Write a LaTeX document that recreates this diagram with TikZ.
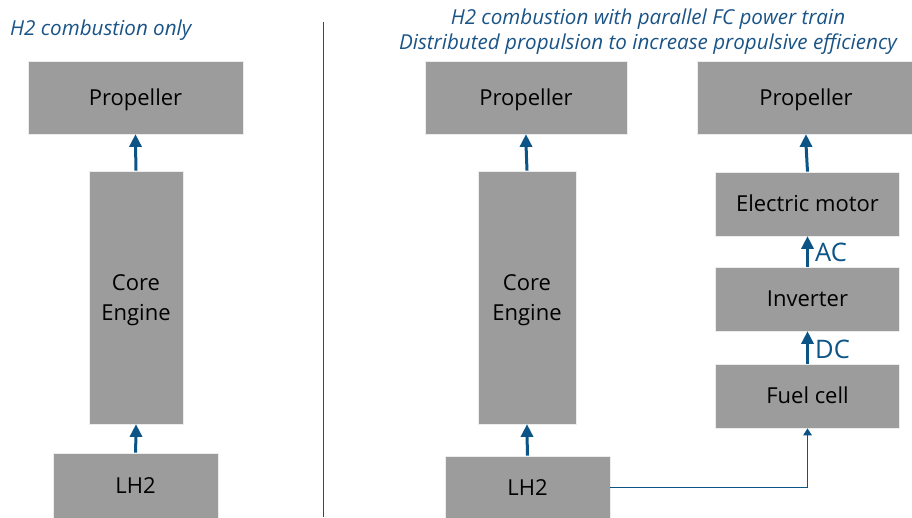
\documentclass[tikz,border=0pt]{standalone}
\usepackage{fontspec}
\setmainfont{Open Sans}
\usetikzlibrary{arrows.meta}
\definecolor{boxgray}{RGB}{156,156,157}
\definecolor{dblue}{RGB}{12,84,134}
\definecolor{tblue}{RGB}{26,84,134}
\newcommand\bigup[2]{%
  \draw[shaft] (#1) -- ([yshift=-10pt]#2);
  \fill[tipfill] (#2) -- ++(-6.5,12.5) -- ++(13,0) -- cycle;}
\begin{document}
\begin{tikzpicture}[x=1pt,y=-1pt,
  blk/.style={draw=white!85!gray,line width=0.8pt,fill=boxgray,inner sep=0pt,font=\fontsize{22}{30}\selectfont,text=black,align=center,text height=15.7pt,text depth=0pt},
  twoline/.style={text height=45.7pt,text depth=0pt},
  shaft/.style={draw=dblue,line width=3pt},
  tipfill/.style={fill=dblue},
  thinline/.style={draw=dblue,line width=1.8pt},
  ttl/.style={text=tblue,font=\fontsize{20.6}{25}\selectfont\itshape},
  lbl/.style={text=dblue,font=\fontsize{25.5}{28}\selectfont,inner sep=0pt}]
\useasboundingbox (0,0) rectangle (912,517);
% left column
\node[blk,minimum width=215pt,minimum height=73pt] (lprop) at (135.5,97.5) {Propeller};
\node[blk,twoline,minimum width=94pt,minimum height=253pt] (lcore) at (136,297.5) {Core\\Engine};
\node[blk,minimum width=165pt,minimum height=66pt] (llh2) at (135.5,486) {LH2};
\bigup{lcore.north}{lprop.south}
\bigup{llh2.north}{lcore.south}
\node[ttl,anchor=west,inner sep=0pt] (ltitle) at (10,30.5) {H2 combustion only};
% divider
\coordinate (dtop) at (323,22);
\coordinate (dbot) at (323,517);
\draw[dblue,line width=1pt] (dtop) -- (dbot);
% right titles
\node[ttl,align=center,inner sep=0pt] (rtitle) at (648,32) {H2 combustion with parallel FC power train\\Distributed propulsion to increase propulsive efficiency};
% middle column
\node[blk,minimum width=202pt,minimum height=73pt] (mprop) at (526,97.5) {Propeller};
\node[blk,twoline,minimum width=98pt,minimum height=253pt] (mcore) at (527,297.5) {Core\\Engine};
\node[blk,minimum width=165pt,minimum height=63pt] (mlh2) at (527.5,487.5) {LH2};
\bigup{mcore.north}{mprop.south}
\bigup{mlh2.north}{mcore.south}
% right column
\node[blk,minimum width=218pt,minimum height=73pt] (rprop) at (806,97.5) {Propeller};
\node[blk,minimum width=184pt,minimum height=64pt] (motor) at (807.5,204) {Electric motor};
\node[blk,minimum width=184pt,minimum height=64pt] (inv) at (807.5,299) {Inverter};
\node[blk,minimum width=184pt,minimum height=64pt] (fc) at (807.5,396) {Fuel cell};
\bigup{motor.north}{rprop.south}
\bigup{inv.north}{motor.south}
\bigup{fc.north}{inv.south}
\node[lbl,anchor=west] (ac) at (815,252) {AC};
\node[lbl,anchor=west] (dc) at (815,349) {DC};
\draw[thinline] (mlh2.east) -| ([yshift=-5pt]fc.south);
\fill[tipfill] (fc.south) -- ++(-4.5,7) -- ++(9,0) -- cycle;
\end{tikzpicture}
\end{document}
